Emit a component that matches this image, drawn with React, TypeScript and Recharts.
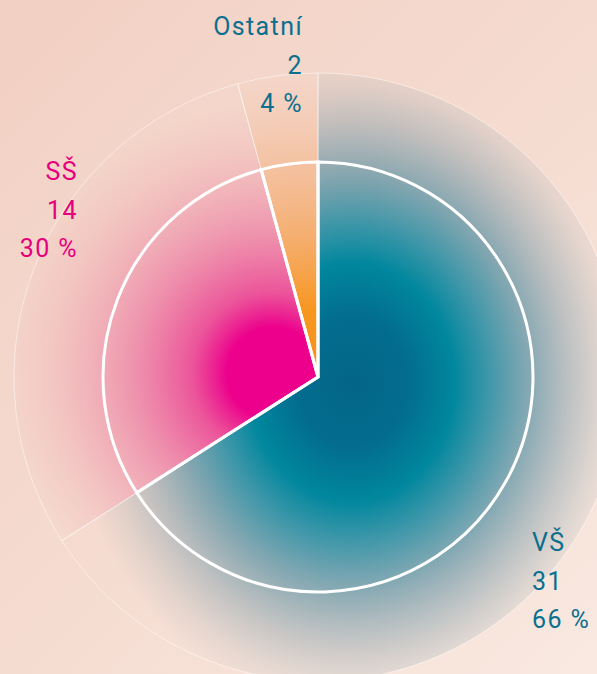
import React from 'react';
import { PieChart, Pie, Cell } from 'recharts';

const categories = ['VŠ', 'SŠ', 'Ostatní'];
const counts = [31, 14, 2];

const labelColors = ['#0b6f8e', '#e6007e', '#0b6f8e'];
const gradientIds = ['gVS', 'gSS', 'gOT'];

const data = categories.map((name, i) => ({ name, value: counts[i] }));
const total = counts.reduce((a, b) => a + b, 0);

// label placement relative to pie centre
const labelLayout = [
  { dx: 214, dy: 174, anchor: 'start' },
  { dx: -240, dy: -197, anchor: 'end' },
  { dx: -15, dy: -342, anchor: 'end' },
];

const W = 597;
const H = 674;
const CX = 318;
const CY = 377;

const renderLabel = (props: any) => {
  const { cx, cy, index, value, name } = props;
  const l = labelLayout[index];
  const pct = Math.round((value / total) * 100);
  const lines = [name, String(value), `${pct} %`];
  return (
    <text
      x={cx + l.dx}
      y={cy + l.dy}
      textAnchor={l.anchor}
      fill={labelColors[index]}
      fontFamily="Roboto, 'DejaVu Sans', sans-serif"
      fontSize={25}
      letterSpacing={1.4}
    >
      {lines.map((t, k) => (
        <tspan key={k} x={cx + l.dx} dy={k === 0 ? 0 : 38.5}>
          {t}
        </tspan>
      ))}
    </text>
  );
};

export default function App() {
  return (
    <div
      style={{
        position: 'absolute',
        left: 0,
        top: 0,
        width: W,
        height: H,
        background: 'linear-gradient(135deg, #f2d0c3 0%, #f5dbd0 50%, #f9e9e1 100%)',
        overflow: 'hidden',
      }}
    >
      <PieChart width={W} height={H} margin={{ top: 0, right: 0, bottom: 0, left: 0 }}>
        <defs>
          <radialGradient
            id="gVS"
            gradientUnits="userSpaceOnUse"
            cx={0}
            cy={0}
            r={330}
            gradientTransform="translate(352 382) scale(0.86 1)"
          >
            <stop offset="0" stopColor="#036688" stopOpacity={1} />
            <stop offset="0.2" stopColor="#036d8f" stopOpacity={1} />
            <stop offset="0.36" stopColor="#00879e" stopOpacity={1} />
            <stop offset="0.5" stopColor="#1c88a0" stopOpacity={0.8} />
            <stop offset="0.64" stopColor="#357f98" stopOpacity={0.55} />
            <stop offset="0.77" stopColor="#477f96" stopOpacity={0.32} />
            <stop offset="0.9" stopColor="#5a8896" stopOpacity={0.12} />
            <stop offset="1" stopColor="#5a8896" stopOpacity={0} />
          </radialGradient>
          <radialGradient id="gSS" gradientUnits="userSpaceOnUse" cx={273} cy={373} r={270}>
            <stop offset="0" stopColor="#ec008c" stopOpacity={1} />
            <stop offset="0.17" stopColor="#ec008c" stopOpacity={1} />
            <stop offset="0.3" stopColor="#ea3d91" stopOpacity={0.85} />
            <stop offset="0.5" stopColor="#ea5e96" stopOpacity={0.6} />
            <stop offset="0.68" stopColor="#ec7a9c" stopOpacity={0.4} />
            <stop offset="0.85" stopColor="#ee8aa2" stopOpacity={0.17} />
            <stop offset="1" stopColor="#ee8aa2" stopOpacity={0} />
          </radialGradient>
          <radialGradient id="gOT" gradientUnits="userSpaceOnUse" cx={312} cy={370} r={300}>
            <stop offset="0" stopColor="#f7941d" stopOpacity={1} />
            <stop offset="0.2" stopColor="#f7961f" stopOpacity={1} />
            <stop offset="0.45" stopColor="#f5a050" stopOpacity={0.75} />
            <stop offset="0.7" stopColor="#f3a870" stopOpacity={0.45} />
            <stop offset="0.9" stopColor="#f3b080" stopOpacity={0.15} />
            <stop offset="1" stopColor="#f3b080" stopOpacity={0} />
          </radialGradient>
        </defs>
        <Pie
          data={data}
          dataKey="value"
          nameKey="name"
          cx={CX}
          cy={CY}
          outerRadius={304}
          startAngle={90}
          endAngle={-270}
          stroke="rgba(255,255,255,0.6)"
          strokeWidth={0.8}
          label={renderLabel}
          labelLine={false}
          isAnimationActive={false}
        >
          {data.map((d, i) => (
            <Cell key={d.name} fill={`url(#${gradientIds[i]})`} />
          ))}
        </Pie>
        <Pie
          data={data}
          dataKey="value"
          nameKey="name"
          cx={CX}
          cy={CY}
          outerRadius={215}
          startAngle={90}
          endAngle={-270}
          fill="none"
          stroke="#ffffff"
          strokeWidth={3}
          isAnimationActive={false}
        >
          {data.map((d) => (
            <Cell key={d.name} fill="none" />
          ))}
        </Pie>
      </PieChart>
    </div>
  );
}
